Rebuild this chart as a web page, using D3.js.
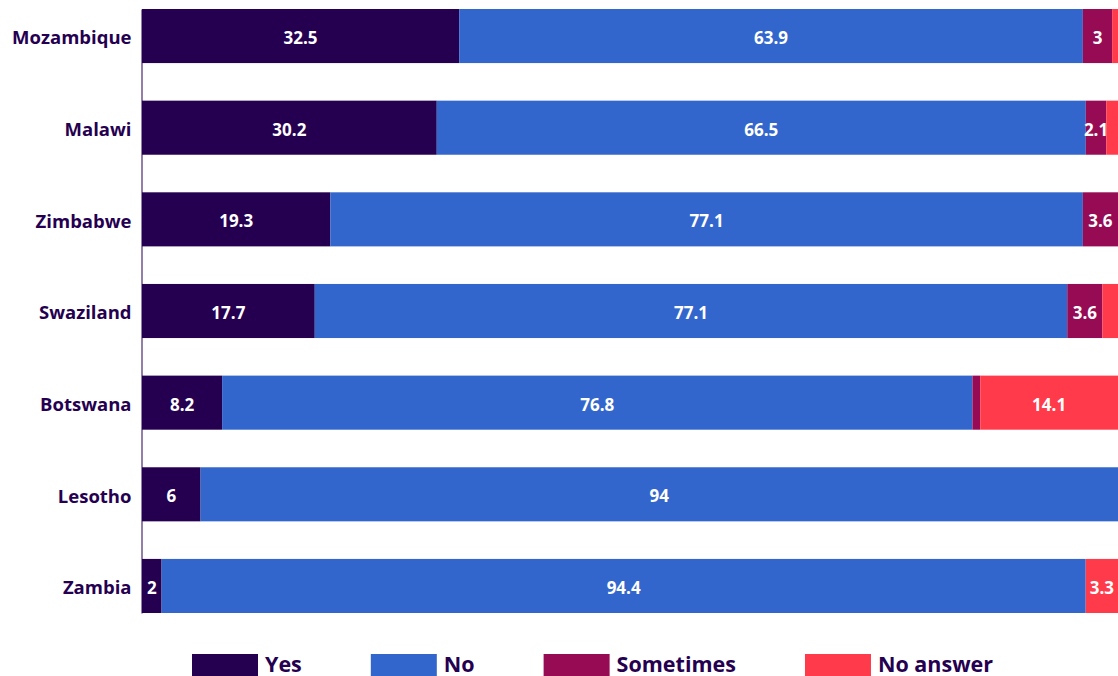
<!DOCTYPE html>
<html>
<head>
<meta charset="utf-8">
<script src="https://cdn.jsdelivr.net/npm/d3@7"></script>
<style>
  body { margin: 0; background: #fff; }
  svg { display: block; font-family: "Open Sans", "Noto Sans", sans-serif; }
</style>
</head>
<body>
<div id="chart"></div>
<script>
// data
const countries = ['Mozambique', 'Malawi', 'Zimbabwe', 'Swaziland', 'Botswana', 'Lesotho', 'Zambia'];
const seriesNames = ['Yes', 'No', 'Sometimes', 'No answer'];
const yes = [32.5, 30.2, 19.3, 17.7, 8.2, 6, 2];
const no = [63.9, 66.5, 77.1, 77.1, 76.8, 94, 94.4];
const sometimes = [3, 2.1, 3.6, 3.6, 0.8, 0, 0];
const noAnswer = [0.6, 1.2, 0, 1.6, 14.1, 0, 3.3];
const colors = ['#250050', '#3366cc', '#960b54', '#ff3b4b'];

const width = 1118, height = 676;
const margin = { top: 9, right: 0, bottom: 63, left: 142 };

const rows = countries.map((c, i) => ({
    country: c,
    'Yes': yes[i], 'No': no[i], 'Sometimes': sometimes[i], 'No answer': noAnswer[i]
}));

// each row is stretched to the full width (shares of its own total)
const stack = d3.stack().keys(seriesNames).offset(d3.stackOffsetExpand)(rows);

const x = d3.scaleLinear()
    .domain([0, 1])
    .range([margin.left, width - margin.right]);

const y = d3.scaleBand()
    .domain(countries)
    .range([margin.top, height - margin.bottom])
    .paddingInner(0.41)
    .paddingOuter(0);

const color = d3.scaleOrdinal().domain(seriesNames).range(colors);

const svg = d3.select('#chart').append('svg')
    .attr('width', width)
    .attr('height', height);

// bars
const layer = svg.selectAll('.layer')
    .data(stack)
    .enter().append('g')
    .attr('class', 'layer')
    .attr('fill', d => color(d.key));

layer.selectAll('rect')
    .data(d => d.map(s => Object.assign(s, { key: d.key })))
    .enter().append('rect')
    .attr('x', d => x(d[0]))
    .attr('y', d => y(d.data.country))
    .attr('width', d => x(d[1]) - x(d[0]))
    .attr('height', y.bandwidth());

// value labels (small segments stay unlabeled)
layer.selectAll('text')
    .data(d => d.filter(s => s.data[d.key] >= 2))
    .enter().append('text')
    .attr('x', d => (x(d[0]) + x(d[1])) / 2)
    .attr('y', d => y(d.data.country) + y.bandwidth() / 2 + 2)
    .attr('dy', '0.35em')
    .attr('text-anchor', 'middle')
    .attr('fill', '#fff')
    .attr('font-size', 17)
    .attr('font-weight', 700)
    .text(d => d3.format('~g')(d.data[d.key]));

// y axis
const yAxis = svg.append('g')
    .attr('transform', `translate(${margin.left - 0.5},0)`)
    .call(d3.axisLeft(y).tickSize(0).tickPadding(10));

yAxis.select('.domain').attr('stroke', '#250050').attr('stroke-width', 1);
yAxis.selectAll('text')
    .attr('fill', '#250050')
    .attr('font-size', 18.5)
    .attr('font-weight', 700)
    .attr('dy', '0.45em')
    .attr('font-family', '"Open Sans", "Noto Sans", sans-serif');

// legend
const legend = svg.append('g')
    .attr('transform', `translate(192,${height - 22})`);

let lx = 0;
seriesNames.forEach(name => {
    const item = legend.append('g').attr('transform', `translate(${lx},0)`);
    item.append('rect')
        .attr('width', 66)
        .attr('height', 22)
        .attr('fill', color(name));
    const t = item.append('text')
        .attr('x', 73)
        .attr('y', 17.5)
        .attr('fill', '#250050')
        .attr('font-size', 21.5)
        .attr('font-weight', 700)
        .text(name);
    lx += 73 + t.node().getComputedTextLength() + 69;
});
</script>
</body>
</html>
